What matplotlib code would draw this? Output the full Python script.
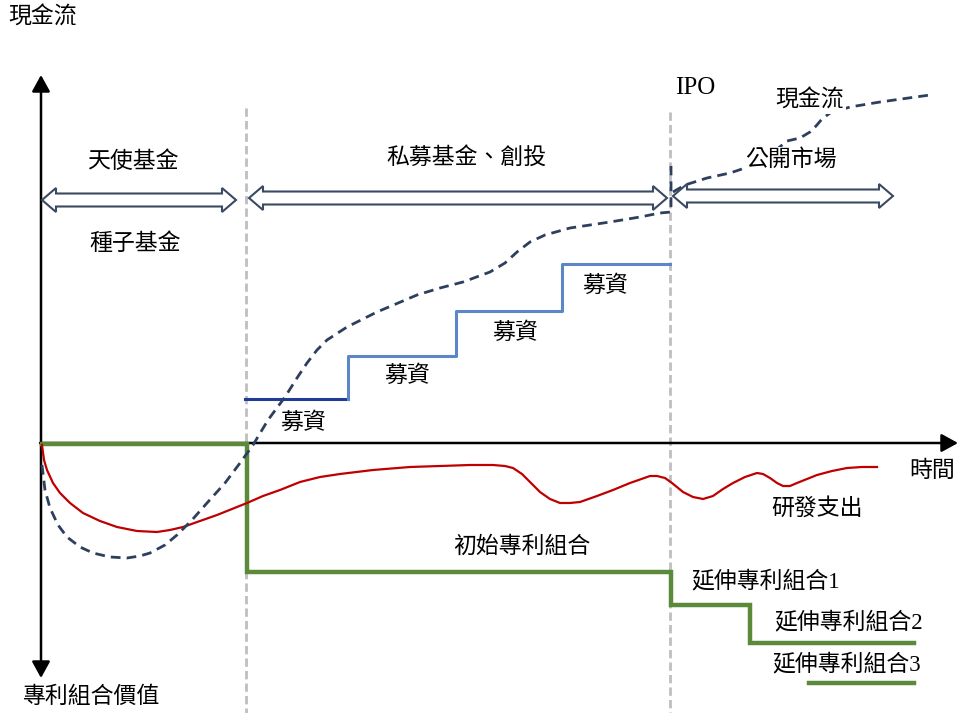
import matplotlib
matplotlib.use("Agg")
import matplotlib.pyplot as plt
from matplotlib.patches import Polygon

plt.rcParams['font.family'] = ['Liberation Serif', 'Noto Sans CJK TC']

# diagram drawn in a pixel-like frame: x = time, y grows downward
# cash flow curve (dashed), before and after IPO
cash_x = [42, 45, 50, 58, 67, 80, 93, 110, 127, 140, 150, 165, 177, 192, 207, 225, 240, 253,
          268, 285, 297, 307, 317, 327, 347, 377, 417, 440, 463, 490, 505, 517, 530, 545,
          570, 610, 640, 660, 671, 671]
cash_y = [465, 490, 508, 525, 537, 547, 553, 557, 558, 556, 553, 545, 535, 520, 503, 483, 463, 445,
          420, 397, 378, 363, 350, 340, 327, 312, 295, 288, 282, 272, 263, 252, 242, 235,
          228, 222, 217, 213, 212, 166]
cash_ipo_x = [673, 685, 707, 730, 745, 770, 787, 800, 810, 816, 822, 830, 850, 880, 930]
cash_ipo_y = [192, 185, 178, 173, 168, 155, 141, 138, 132, 126, 119, 113, 107, 102, 95]

# R&D spending (red)
rd_x = [42, 44, 47, 53, 60, 70, 83, 100, 117, 137, 157, 170, 183, 200, 217, 232, 247, 263,
        280, 300, 320, 340, 373, 410, 440, 470, 493, 505, 513, 522, 530, 540, 550, 560,
        570, 580, 597, 613, 630, 650, 657, 665, 672, 683, 693, 703, 713, 723, 733, 745,
        757, 763, 770, 777, 783, 790, 797, 807, 817, 832, 847, 862, 877]
rd_y = [445, 460, 470, 483, 493, 503, 513, 521, 527, 531, 532, 530, 527, 521, 515, 509, 503, 496,
        490, 482, 477, 474, 470, 467, 466, 465, 465, 466, 468, 474, 482, 492, 499, 503,
        503, 502, 496, 490, 483, 476, 476, 478, 483, 492, 497, 499, 496, 489, 483, 477,
        473, 474, 478, 483, 486, 486, 483, 479, 475, 471, 468, 467, 467]

# fundraising steps (blue)
fund_x = [348, 348, 456, 456, 562, 562, 670]
fund_y = [399, 356, 356, 311, 311, 264, 264]
fund_first_x = [245, 348]
fund_first_y = [399, 399]

# patent portfolio value (green)
patent_x = [42, 247, 247, 671, 671, 750, 750, 914]
patent_y = [444, 444, 572, 572, 605, 605, 643, 643]
patent3_x = [809, 914]
patent3_y = [683, 683]

# phases
phase_start = [42, 249, 673]
phase_end = [236, 667, 893]
phase_y = [200, 198, 196]
divider_x = [246, 670]
divider_top = [108, 112]

fig = plt.figure(figsize=(9.58, 7.13), dpi=100)
ax = fig.add_axes([0, 0, 1, 1])
ax.set_xlim(0, 958)
ax.set_ylim(713, 0)
ax.axis('off')

# axes arrows
ax.annotate('', xy=(41, 75), xytext=(41, 678),
            arrowprops=dict(arrowstyle='<|-|>,head_length=0.4,head_width=0.22', lw=1.8,
                            color='black', mutation_scale=25, shrinkA=0, shrinkB=0))
ax.annotate('', xy=(958, 443), xytext=(40, 443),
            arrowprops=dict(arrowstyle='-|>,head_length=0.4,head_width=0.22', lw=1.8,
                            color='black', mutation_scale=25, shrinkA=0, shrinkB=0))

# phase dividers
for x, top in zip(divider_x, divider_top):
    ax.plot([x, x], [top, 713], color='#bfbfbf', lw=2, dashes=(3, 1.5), zorder=1)

# hollow double arrows
def double_arrow(x0, x1, y, head=14, hw=12, sw=6.5):
    pts = [(x0, y), (x0 + head, y - hw), (x0 + head, y - sw), (x1 - head, y - sw),
           (x1 - head, y - hw), (x1, y), (x1 - head, y + hw), (x1 - head, y + sw),
           (x0 + head, y + sw), (x0 + head, y + hw)]
    ax.add_patch(Polygon(pts, closed=True, fc='white', ec='#3b4a63', lw=1.5, zorder=4))

for x0, x1, y in zip(phase_start, phase_end, phase_y):
    double_arrow(x0, x1, y)

# curves
ax.plot(patent_x, patent_y, color='#5b8a3a', lw=3.2, zorder=3, solid_joinstyle='miter')
ax.plot(patent3_x, patent3_y, color='#5b8a3a', lw=3.2, zorder=3)
ax.plot(rd_x, rd_y, color='#c00000', lw=1.6, zorder=3)
ax.plot(fund_first_x, fund_first_y, color='#1f3c99', lw=2.2, zorder=3)
ax.plot(fund_x, fund_y, color='#5b86c8', lw=2.2, zorder=3)
ax.plot(cash_x, cash_y, color='#2e3f5e', lw=2, dashes=(3.5, 2.2), zorder=3)
ax.plot(cash_ipo_x, cash_ipo_y, color='#2e3f5e', lw=2, dashes=(3.5, 2.2), zorder=3)

# labels
box = dict(fc='white', ec='none', pad=1.5)
labels = [
    ('現金流', 43, 18), ('天使基金', 133, 162), ('種子基金', 135, 244),
    ('私募基金、創投', 466, 158), ('公開市場', 791, 160), ('IPO', 695, 88),
    ('現金流', 810, 101), ('時間', 932, 471), ('研發支出', 817, 509),
    ('專利組合價值', 92, 697), ('初始專利組合', 522, 547),
    ('延伸專利組合1', 766, 581), ('延伸專利組合2', 849, 622), ('延伸專利組合3', 847, 664),
    ('募資', 303, 423), ('募資', 407, 376), ('募資', 515, 333), ('募資', 605, 286),
]
for txt, x, y in labels:
    size = 18 if txt == 'IPO' else 16.5
    ax.text(x, y, txt, ha='center', va='center', fontsize=size, color='black',
            bbox=box, zorder=6)

fig.savefig('out.png', dpi=100, facecolor='white')
